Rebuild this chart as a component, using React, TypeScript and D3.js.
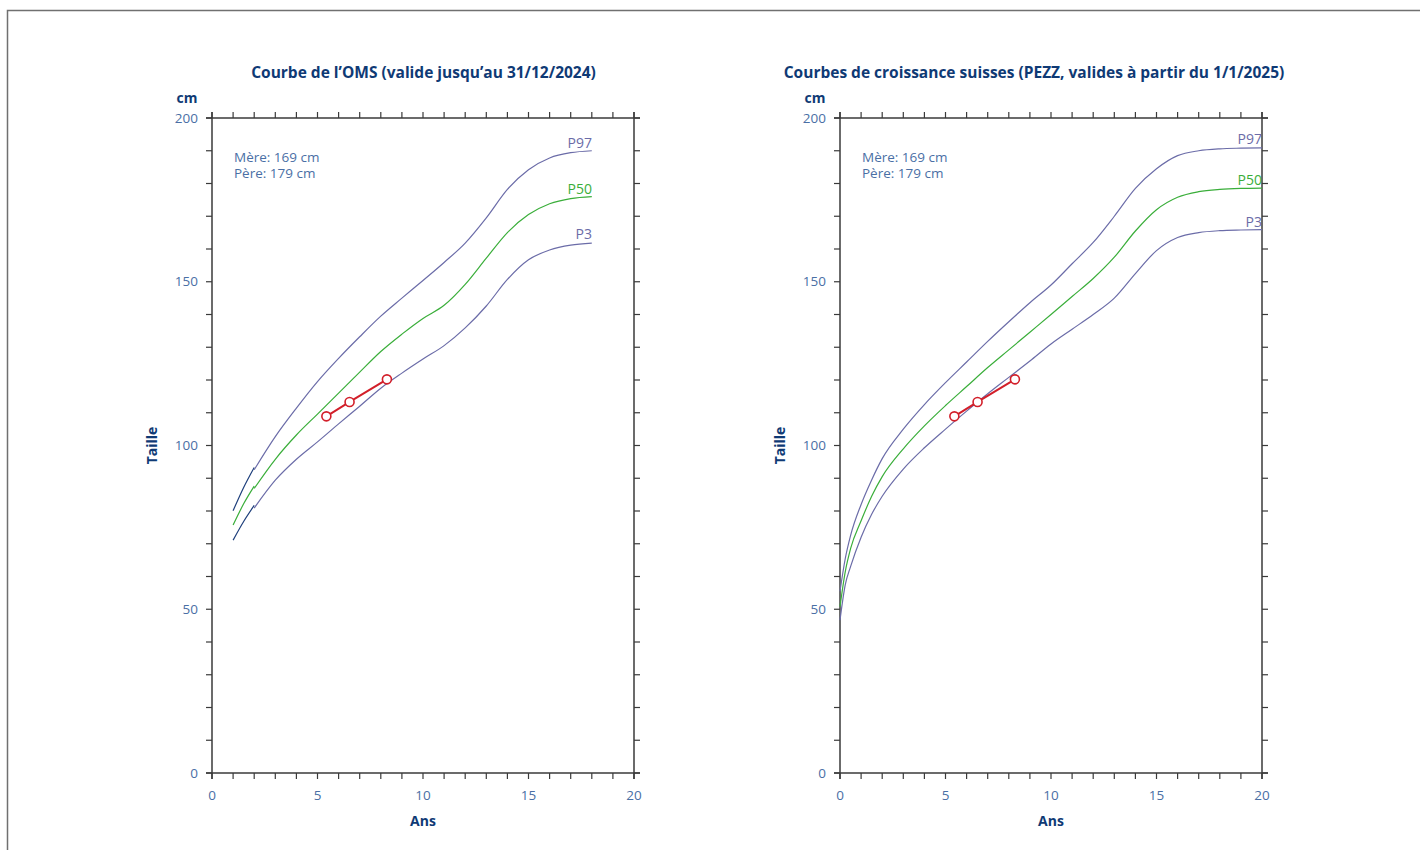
import React from "react";
import * as d3 from "d3";

// ---------- DATA ----------
// WHO chart (boys), infant length segment 1–2 y
const WHO_INFANT_AGES = [1, 1.5, 2];
const WHO_INFANT_P3 = [71.1, 76.8, 81.7];
const WHO_INFANT_P50 = [75.7, 82.2, 87.6];
const WHO_INFANT_P97 = [80.1, 87.2, 93.3];

// WHO chart, height 2–18 y
const WHO_AGES = [2, 3, 4, 5, 6, 7, 8, 9, 10, 11, 12, 13, 14, 15, 16, 17, 18];
const WHO_P3 = [80.9, 89.4, 95.8, 101.1, 106.6, 112.0, 117.5, 122.1, 126.4, 130.5, 135.9, 142.6, 150.7, 156.7, 159.7, 161.2, 161.8];
const WHO_P50 = [86.9, 95.8, 103.2, 109.6, 116.0, 122.4, 128.7, 134.0, 138.8, 142.8, 149.2, 157.2, 165.0, 170.5, 173.8, 175.4, 176.0];
const WHO_P97 = [92.6, 102.7, 111.4, 119.5, 126.6, 133.2, 139.5, 145.0, 150.4, 155.9, 161.8, 169.5, 178.2, 184.2, 187.8, 189.4, 190.0];

// Swiss PEZZ chart 0–20 y
const PEZZ_AGES = [0, 0.25, 0.5, 1, 1.5, 2, 3, 4, 5, 6, 7, 8, 9, 10, 11, 12, 13, 14, 15, 16, 17, 18, 19, 20];
const PEZZ_P3 = [46.7, 57.5, 63.0, 72.0, 79.0, 84.5, 92.8, 99.3, 105.0, 110.5, 115.8, 120.8, 125.8, 131.0, 135.5, 140.0, 145.0, 152.5, 159.5, 163.5, 165.0, 165.6, 165.8, 165.9];
const PEZZ_P50 = [50.8, 61.5, 68.5, 77.0, 84.5, 90.5, 99.0, 106.0, 112.2, 118.0, 123.8, 129.2, 134.6, 140.0, 145.5, 151.0, 157.5, 165.5, 172.0, 175.8, 177.5, 178.2, 178.5, 178.6];
const PEZZ_P97 = [55.5, 65.5, 72.5, 82.0, 89.5, 96.0, 105.0, 112.5, 119.2, 125.5, 131.8, 137.8, 143.6, 149.0, 155.5, 162.0, 170.0, 178.5, 184.5, 188.5, 190.0, 190.6, 190.8, 190.9];

// Patient measurements
const PATIENT_AGES = [5.42, 6.52, 8.29];
const PATIENT_HEIGHTS = [108.9, 113.3, 120.2];

const PARENT_TEXT = ["Mère: 169 cm", "Père: 179 cm"];
const X_TICK_LABELS = [0, 5, 10, 15, 20];
const Y_TICK_LABELS = [0, 50, 100, 150, 200];

// ---------- STYLE ----------
const FONT = "'Open Sans', 'Noto Sans', sans-serif";
const NAVY = "#0f3a75";
const LABEL_BLUE = "#4a6fa5";
const PURPLE = "#6b6ca8";
const GREEN = "#3aae3a";
const DARK_BLUE = "#1e3f7c";
const RED = "#d21f2a";

const TOP = 118;
const BOTTOM = 773;

type Series = { ages: number[]; vals: number[]; color: string };

function Chart(props: {
  left: number;
  right: number;
  title: string;
  titleX: number;
  series: Series[];
  labels: { text: string; y: number; color: string; x: number }[];
}) {
  const { left, right, title, titleX, series, labels } = props;
  const x = d3.scaleLinear().domain([0, 20]).range([left, right]);
  const y = d3.scaleLinear().domain([0, 200]).range([BOTTOM, TOP]);
  const yTicks = d3.range(0, 201, 10);
  const xTicks = d3.range(0, 21, 1);
  const tl = 6;
  const axisColor = "#3a3a3a";
  const mkLine = (ages: number[], vals: number[]) =>
    d3
      .line<number>()
      .x((_, i) => x(ages[i]))
      .y((v) => y(v))
      .curve(d3.curveMonotoneX)(vals) || "";
  const patientLine =
    d3
      .line<number>()
      .x((_, i) => x(PATIENT_AGES[i]))
      .y((v) => y(v))(PATIENT_HEIGHTS) || "";
  const midX = (left + right) / 2;
  const midY = (TOP + BOTTOM) / 2;
  return (
    <g fontFamily={FONT}>
      <text x={titleX} y={78} textAnchor="middle" fontSize={15.5} fontWeight="bold" fill={NAVY}>
        {title}
      </text>
      <text x={left - 25} y={103} textAnchor="middle" fontSize={14} fontWeight="bold" fill={NAVY}>
        cm
      </text>
      <text
        transform={`translate(${left - 55},${midY}) rotate(-90)`}
        textAnchor="middle"
        fontSize={14}
        fontWeight="bold"
        fill={NAVY}
      >
        Taille
      </text>
      <text x={midX} y={826} textAnchor="middle" fontSize={14} fontWeight="bold" fill={NAVY}>
        Ans
      </text>
      {/* frame */}
      <line x1={left - tl} x2={right + tl} y1={TOP} y2={TOP} stroke={axisColor} strokeWidth={1.5} />
      <line x1={left - tl} x2={right + tl} y1={BOTTOM} y2={BOTTOM} stroke={axisColor} strokeWidth={1.5} />
      <line x1={left} x2={left} y1={TOP - tl} y2={BOTTOM + tl} stroke={axisColor} strokeWidth={1.5} />
      <line x1={right} x2={right} y1={TOP - tl} y2={BOTTOM + tl} stroke={axisColor} strokeWidth={1.5} />
      {yTicks.map((t) => (
        <g key={"y" + t}>
          <line x1={left - tl} x2={left} y1={y(t)} y2={y(t)} stroke={axisColor} strokeWidth={1.2} />
          <line x1={right} x2={right + tl} y1={y(t)} y2={y(t)} stroke={axisColor} strokeWidth={1.2} />
        </g>
      ))}
      {xTicks.map((t) => (
        <g key={"x" + t}>
          <line x1={x(t)} x2={x(t)} y1={TOP - tl} y2={TOP} stroke={axisColor} strokeWidth={1.2} />
          <line x1={x(t)} x2={x(t)} y1={BOTTOM} y2={BOTTOM + tl} stroke={axisColor} strokeWidth={1.2} />
        </g>
      ))}
      {Y_TICK_LABELS.map((t) => (
        <text key={"yl" + t} x={left - 14} y={y(t)} dy="0.35em" textAnchor="end" fontSize={13.5} fill={LABEL_BLUE}>
          {t}
        </text>
      ))}
      {X_TICK_LABELS.map((t) => (
        <text key={"xl" + t} x={x(t)} y={BOTTOM + 22} dy="0.35em" textAnchor="middle" fontSize={13.5} fill={LABEL_BLUE}>
          {t}
        </text>
      ))}
      {PARENT_TEXT.map((s, i) => (
        <text key={s} x={left + 22} y={162 + i * 16} fontSize={13.5} fill={LABEL_BLUE}>
          {s}
        </text>
      ))}
      {series.map((s, i) => (
        <path key={i} d={mkLine(s.ages, s.vals)} fill="none" stroke={s.color} strokeWidth={1.2} />
      ))}
      {labels.map((l) => (
        <text key={l.text} x={l.x} y={l.y} textAnchor="end" fontSize={14} fill={l.color}>
          {l.text}
        </text>
      ))}
      <path d={patientLine} fill="none" stroke={RED} strokeWidth={2} />
      {PATIENT_AGES.map((a, i) => (
        <circle key={i} cx={x(a)} cy={y(PATIENT_HEIGHTS[i])} r={4.5} fill="#fff" stroke={RED} strokeWidth={1.6} />
      ))}
    </g>
  );
}

export default function App() {
  const whoSeries: Series[] = [
    { ages: WHO_INFANT_AGES, vals: WHO_INFANT_P97, color: DARK_BLUE },
    { ages: WHO_INFANT_AGES, vals: WHO_INFANT_P50, color: GREEN },
    { ages: WHO_INFANT_AGES, vals: WHO_INFANT_P3, color: DARK_BLUE },
    { ages: WHO_AGES, vals: WHO_P97, color: PURPLE },
    { ages: WHO_AGES, vals: WHO_P50, color: GREEN },
    { ages: WHO_AGES, vals: WHO_P3, color: PURPLE },
  ];
  const pezzSeries: Series[] = [
    { ages: PEZZ_AGES, vals: PEZZ_P97, color: PURPLE },
    { ages: PEZZ_AGES, vals: PEZZ_P50, color: GREEN },
    { ages: PEZZ_AGES, vals: PEZZ_P3, color: PURPLE },
  ];
  return (
    <svg
      width={1420}
      height={850}
      style={{ position: "absolute", left: 0, top: 0, display: "block", background: "#fff" }}
    >
      <rect x={7.5} y={10.5} width={1430} height={860} fill="#fff" stroke="#707070" strokeWidth={1.5} />
      <Chart
        left={212}
        right={634}
        title="Courbe de l’OMS (valide jusqu’au 31/12/2024)"
        titleX={423.5}
        series={whoSeries}
        labels={[
          { text: "P97", x: 592, y: 148, color: PURPLE },
          { text: "P50", x: 592, y: 194, color: GREEN },
          { text: "P3", x: 592, y: 239, color: PURPLE },
        ]}
      />
      <Chart
        left={840}
        right={1262}
        title="Courbes de croissance suisses (PEZZ, valides à partir du 1/1/2025)"
        titleX={1034}
        series={pezzSeries}
        labels={[
          { text: "P97", x: 1262, y: 144, color: PURPLE },
          { text: "P50", x: 1262, y: 185, color: GREEN },
          { text: "P3", x: 1262, y: 227, color: PURPLE },
        ]}
      />
    </svg>
  );
}
